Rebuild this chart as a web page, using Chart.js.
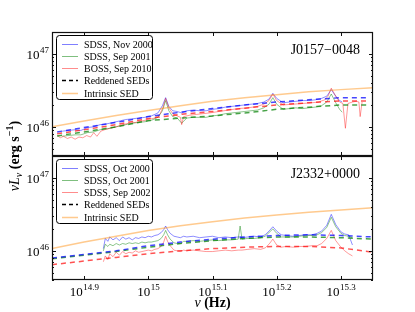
<!DOCTYPE html>
<html>
<head>
<meta charset="utf-8">
<script src="https://cdn.jsdelivr.net/npm/chart.js@4.4.1/dist/chart.umd.min.js"></script>
<style>
  html, body { margin: 0; padding: 0; background: #fff; }
  #wrap { position: relative; width: 415px; height: 312px; }
  canvas { position: absolute; left: 0; top: 0; }
</style>
</head>
<body>
<div id="wrap">
  <canvas id="topPanel" width="415" height="312"></canvas>
  <canvas id="botPanel" width="415" height="312"></canvas>
</div>
<script>
// ---- data (log10 nu [Hz], log10 nuL_nu [erg/s]) ----
const xTickExp = ["14.9", "15", "15.1", "15.2", "15.3"];
const yTickExp = ["46", "47"];

const topTitle = "J0157\u22120048";
const botTitle = "J2332+0000";
const topLabels = ["SDSS, Nov 2000", "SDSS, Sep 2001", "BOSS, Sep 2010", "Reddened SEDs", "Intrinsic SED"];
const botLabels = ["SDSS, Oct 2000", "SDSS, Oct 2001", "SDSS, Sep 2002", "Reddened SEDs", "Intrinsic SED"];

// model grids
const nuModel = [14.85, 14.9, 14.95, 15.0, 15.05, 15.1, 15.15, 15.2, 15.25, 15.3, 15.35];
const nuRedTop = [14.858, 14.9, 14.95, 15.0, 15.05, 15.1, 15.15, 15.2, 15.25, 15.3, 15.345];

// J0157-0048
const topIntrinsic = [46.0, 46.08, 46.155, 46.225, 46.29, 46.35, 46.40, 46.44, 46.48, 46.51, 46.535];
const topRedBlue = [45.93, 45.99, 46.06, 46.14, 46.20, 46.25, 46.30, 46.34, 46.37, 46.40, 46.40];
const topRedRed = [45.905, 45.96, 46.03, 46.115, 46.17, 46.21, 46.255, 46.30, 46.33, 46.355, 46.355];
const topRedGreen = [45.875, 45.93, 46.0, 46.085, 46.12, 46.15, 46.19, 46.24, 46.27, 46.30, 46.30];

const nuTopSdss = [14.866, 14.875, 14.886, 14.895, 14.905, 14.915, 14.925, 14.935, 14.945, 14.955,
  14.965, 14.975, 14.985, 14.995, 15.005, 15.015, 15.022, 15.027, 15.032, 15.038,
  15.045, 15.052, 15.06, 15.07, 15.08, 15.09, 15.1, 15.11, 15.12, 15.13,
  15.14, 15.15, 15.16, 15.17, 15.18, 15.188, 15.194, 15.2, 15.21, 15.22,
  15.23, 15.24, 15.25, 15.26, 15.27, 15.278, 15.285, 15.292, 15.298, 15.302];
const topSpecBlue = [45.94, 45.95, 45.96, 45.95, 45.99, 46.0, 46.03, 46.04, 46.06, 46.08,
  46.1, 46.11, 46.12, 46.13, 46.15, 46.19, 46.29, 46.4, 46.28, 46.22,
  46.21, 46.19, 46.22, 46.23, 46.22, 46.22, 46.24, 46.25, 46.27, 46.28,
  46.29, 46.3, 46.31, 46.32, 46.34, 46.38, 46.46, 46.39, 46.33, 46.34,
  46.35, 46.36, 46.36, 46.37, 46.39, 46.42, 46.51, 46.42, 46.36, 46.34];
const topSpecGreen = [45.87, 45.88, 45.89, 45.89, 45.92, 45.93, 45.96, 45.97, 45.99, 46.01,
  46.03, 46.05, 46.06, 46.07, 46.09, 46.13, 46.22, 46.36, 46.22, 46.14,
  46.12, 46.05, 46.12, 46.13, 46.13, 46.13, 46.15, 46.16, 46.18, 46.19,
  46.2, 46.21, 46.22, 46.23, 46.26, 46.31, 46.4, 46.31, 46.24, 46.25,
  46.26, 46.25, 46.26, 46.27, 46.29, 46.34, 46.45, 46.33, 46.24, 46.2];

const nuTopBoss = [14.858, 14.863, 14.868, 14.874, 14.88, 14.886, 14.892, 14.898, 14.904, 14.91,
  14.915, 14.92, 14.926, 14.932, 14.94, 14.95, 14.96, 14.97, 14.98, 14.99,
  15.0, 15.01, 15.018, 15.023, 15.027, 15.032, 15.038, 15.045, 15.05, 15.052,
  15.055, 15.065, 15.075, 15.085, 15.095, 15.11, 15.125, 15.14, 15.155, 15.17,
  15.18, 15.188, 15.194, 15.2, 15.21, 15.225, 15.24, 15.255, 15.265, 15.275,
  15.28, 15.285, 15.292, 15.298, 15.303, 15.307, 15.311, 15.318, 15.324, 15.328,
  15.33, 15.333];
const topSpecRed = [45.88, 45.85, 45.87, 45.84, 45.86, 45.83, 45.86, 45.85, 45.88, 45.86,
  45.92, 45.87, 45.94, 45.96, 45.98, 46.0, 46.03, 46.05, 46.06, 46.08,
  46.1, 46.12, 46.17, 46.27, 46.39, 46.26, 46.18, 46.15, 46.13, 46.03,
  46.14, 46.16, 46.17, 46.18, 46.19, 46.21, 46.23, 46.25, 46.26, 46.28,
  46.31, 46.36, 46.45, 46.36, 46.3, 46.31, 46.32, 46.33, 46.34, 46.37,
  46.42, 46.53, 46.42, 46.34, 46.32, 45.98, 46.32, 46.34, 46.35, 46.34,
  46.14, 46.34];

// J2332+0000
const botIntrinsic = [46.03, 46.12, 46.2, 46.28, 46.345, 46.40, 46.45, 46.49, 46.53, 46.56, 46.59];
const botRedBlue = [45.90, 45.95, 46.0, 46.07, 46.12, 46.16, 46.19, 46.21, 46.22, 46.21, 46.19];
const botRedGreen = [45.89, 45.94, 45.99, 46.05, 46.10, 46.14, 46.17, 46.19, 46.19, 46.18, 46.16];
const botRedRed = [45.81, 45.86, 45.91, 45.96, 46.0, 46.03, 46.05, 46.06, 46.06, 46.04, 45.98];

const nuBot = [14.93, 14.933, 14.937, 14.94, 14.945, 14.95, 14.955, 14.96, 14.965, 14.97,
  14.975, 14.98, 14.985, 14.99, 14.995, 15.0, 15.005, 15.01, 15.015, 15.02,
  15.024, 15.027, 15.03, 15.034, 15.04, 15.045, 15.05, 15.055, 15.06, 15.07,
  15.08, 15.09, 15.1, 15.11, 15.12, 15.13, 15.14, 15.143, 15.146, 15.155,
  15.165, 15.175, 15.182, 15.188, 15.194, 15.2, 15.207, 15.215, 15.225, 15.235,
  15.245, 15.255, 15.263, 15.27, 15.278, 15.285, 15.292, 15.3, 15.306, 15.312,
  15.318];
const botSpecBlue = [46.03, 46.17, 46.13, 46.19, 46.15, 46.18, 46.14, 46.19, 46.16, 46.18,
  46.15, 46.18, 46.17, 46.19, 46.18, 46.2, 46.19, 46.21, 46.22, 46.25,
  46.29, 46.34, 46.29, 46.24, 46.2, 46.19, 46.18, 46.2, 46.19, 46.2,
  46.18, 46.19, 46.2, 46.18, 46.19, 46.18, 46.19, 46.19, 46.18, 46.19,
  46.2, 46.19, 46.22, 46.27, 46.33, 46.27, 46.22, 46.21, 46.2, 46.21,
  46.22, 46.22, 46.24, 46.27, 46.35, 46.5, 46.36, 46.26, 46.23, 46.22,
  46.08];
const botSpecGreen = [46.0, 46.09, 46.06, 46.09, 46.07, 46.1, 46.08, 46.1, 46.09, 46.11,
  46.1, 46.11, 46.1, 46.12, 46.11, 46.12, 46.12, 46.13, 46.14, 46.17,
  46.22, 46.28, 46.22, 46.16, 46.11, 46.1, 46.1, 46.13, 46.13, 46.14,
  46.13, 46.14, 46.15, 46.14, 46.15, 46.15, 46.16, 46.34, 46.16, 46.17,
  46.17, 46.18, 46.2, 46.25, 46.3, 46.24, 46.19, 46.19, 46.19, 46.2,
  46.21, 46.21, 46.22, 46.25, 46.32, 46.46, 46.33, 46.24, 46.21, 46.2,
  46.18];
const botSpecRed = [45.85, 45.93, 45.88, 45.96, 45.92, 45.98, 45.94, 45.99, 45.96, 45.98,
  45.97, 46.0, 45.98, 45.99, 46.0, 46.01, 46.0, 46.02, 46.03, 46.06,
  46.12, 46.2, 46.13, 46.07, 46.01, 46.0, 45.99, 46.01, 46.0, 46.01,
  46.0, 45.99, 45.99, 46.0, 46.01, 46.0, 46.01, 46.01, 46.01, 46.02,
  46.03, 46.02, 46.04, 46.09, 46.16, 46.08, 46.05, 46.06, 46.05, 46.06,
  46.06, 46.07, 46.07, 46.1, 46.17, 46.28, 46.14, 46.05, 46.0, 45.96,
  45.93];

// ---- styles ----
const SERIF = '"Liberation Serif", "DejaVu Serif", serif';
const cSpecBlue = "rgba(0,0,255,0.5)";
const cSpecGreen = "rgba(0,128,0,0.5)";
const cSpecRed = "rgba(255,0,0,0.45)";
const cDashBlue = "rgba(0,0,255,0.72)";
const cDashGreen = "rgba(0,128,0,0.72)";
const cDashRed = "rgba(255,0,0,0.68)";
const cOrange = "rgba(255,150,30,0.5)";

function pts(xs, ys) {
  return xs.map((x, i) => ({ x: x, y: ys[i] }));
}

function spec(nu, lum, color) {
  return { data: pts(nu, lum), borderColor: color, borderWidth: 0.9, pointRadius: 0, tension: 0 };
}
function dashed(nu, lum, color) {
  return { data: pts(nu, lum), borderColor: color, borderWidth: 1.5, borderDash: [5, 4], pointRadius: 0, tension: 0 };
}
function solid(nu, lum, color) {
  return { data: pts(nu, lum), borderColor: color, borderWidth: 1.5, pointRadius: 0, tension: 0 };
}

// superscript power-of-ten label
function drawPow(ctx, exp, x, y, align) {
  ctx.font = "13px " + SERIF;
  const wb = ctx.measureText("10").width;
  ctx.font = "9px " + SERIF;
  const we = ctx.measureText(exp).width;
  const x0 = align === "right" ? x - wb - we - 0.5 : x - (wb + we) / 2;
  ctx.textAlign = "left";
  ctx.textBaseline = "alphabetic";
  ctx.font = "13px " + SERIF;
  ctx.fillText("10", x0, y);
  ctx.font = "9px " + SERIF;
  ctx.fillText(exp, x0 + wb + 0.5, y - 6);
}

function richWidth(ctx, parts) {
  let w = 0;
  parts.forEach(p => { ctx.font = p.font; w += ctx.measureText(p.t).width; });
  return w;
}
function drawRich(ctx, parts, x, y) {
  let cx = x;
  parts.forEach(p => {
    ctx.font = p.font;
    ctx.fillText(p.t, cx, y + (p.dy || 0));
    cx += ctx.measureText(p.t).width;
  });
}

function panelPlugin(title, labels, legendStyles, withXLabels) {
  return {
    id: "panelDecor",
    afterDraw(chart) {
      const ctx = chart.ctx;
      const a = chart.chartArea;
      const xs = chart.scales.x;
      const ys = chart.scales.y;
      ctx.save();
      ctx.fillStyle = "#000";
      ctx.strokeStyle = "#111";
      ctx.lineWidth = 1;

      // ticks
      ctx.beginPath();
      xTickExp.forEach(e => {
        const px = Math.round(xs.getPixelForValue(parseFloat(e))) + 0.5;
        ctx.moveTo(px, a.bottom); ctx.lineTo(px, a.bottom - 4);
        ctx.moveTo(px, a.top); ctx.lineTo(px, a.top + 4);
      });
      for (let d = 45; d <= 47; d++) {
        for (let m = 1; m < 10; m++) {
          const v = d + Math.log10(m);
          if (v <= ys.min || v >= ys.max) continue;
          const py = Math.round(ys.getPixelForValue(v)) + 0.5;
          const len = m === 1 ? 4 : 2;
          ctx.moveTo(a.left, py); ctx.lineTo(a.left + len, py);
          ctx.moveTo(a.right, py); ctx.lineTo(a.right - len, py);
        }
      }
      ctx.stroke();

      // frame
      ctx.lineWidth = 1.2;
      ctx.strokeRect(a.left + 0.5, a.top + 0.5, a.right - a.left - 1, a.bottom - a.top - 1);

      // y tick labels
      yTickExp.forEach(e => {
        const py = ys.getPixelForValue(parseFloat(e));
        drawPow(ctx, e, 49, py + 5, "right");
      });
      if (withXLabels) {
        xTickExp.forEach(e => {
          const px = xs.getPixelForValue(parseFloat(e));
          drawPow(ctx, e, px, 296, "center");
        });
      }

      // title
      ctx.font = "14px " + SERIF;
      ctx.textAlign = "right";
      ctx.textBaseline = "alphabetic";
      ctx.fillText(title, 360, a.top + 21.5);

      // legend
      const bx = 56.5, by = a.top + 3.5, bw = 96, bh = 64;
      ctx.beginPath();
      ctx.roundRect(bx, by, bw, bh, 3);
      ctx.fillStyle = "#fff";
      ctx.fill();
      ctx.lineWidth = 1;
      ctx.strokeStyle = "#000";
      ctx.stroke();
      ctx.font = "10px " + SERIF;
      ctx.textAlign = "left";
      ctx.textBaseline = "middle";
      labels.forEach((t, i) => {
        const ly = Math.round(a.top + 11.5 + i * 12.3) + 0.5;
        const st = legendStyles[i];
        ctx.beginPath();
        ctx.strokeStyle = st.color;
        ctx.lineWidth = st.width;
        ctx.setLineDash(st.dash || []);
        ctx.moveTo(62, ly); ctx.lineTo(78, ly);
        ctx.stroke();
        ctx.setLineDash([]);
        ctx.fillStyle = "#000";
        ctx.fillText(t, 84, ly + 0.5);
      });

      ctx.restore();
    }
  };
}

function axisLabelsPlugin() {
  return {
    id: "axisLabels",
    afterDraw(chart) {
      const ctx = chart.ctx;
      ctx.save();
      ctx.fillStyle = "#000";
      ctx.textAlign = "left";
      ctx.textBaseline = "alphabetic";
      const xl = [
        { t: "\u03bd ", font: "italic 14px " + SERIF },
        { t: "(Hz)", font: "bold 14px " + SERIF }
      ];
      const wx = richWidth(ctx, xl);
      drawRich(ctx, xl, 212.5 - wx / 2, 307);

      const yl = [
        { t: "\u03bdL", font: "italic 14px " + SERIF },
        { t: "\u03bd", font: "italic 10px " + SERIF, dy: 3 },
        { t: " (erg s", font: "bold 14px " + SERIF },
        { t: "\u22121", font: "bold 10px " + SERIF, dy: -6 },
        { t: ")", font: "bold 14px " + SERIF }
      ];
      const wy = richWidth(ctx, yl);
      ctx.translate(19, 156);
      ctx.rotate(-Math.PI / 2);
      drawRich(ctx, yl, -wy / 2, 0);
      ctx.restore();
    }
  };
}

const legendStyles = [
  { color: cSpecBlue, width: 1 },
  { color: cSpecGreen, width: 1 },
  { color: cSpecRed, width: 1 },
  { color: "#000", width: 1.5, dash: [4, 3] },
  { color: cOrange, width: 1.5 }
];

function baseOptions(padTop, padBottom) {
  return {
    responsive: false,
    animation: false,
    events: [],
    layout: { padding: { left: 52, right: 42, top: padTop, bottom: padBottom } },
    scales: {
      x: { type: "linear", min: 14.85, max: 15.35, display: false },
      y: { type: "linear", min: 45.6, max: 47.3, display: false }
    },
    plugins: { legend: { display: false }, tooltip: { enabled: false } }
  };
}

new Chart(document.getElementById("topPanel").getContext("2d"), {
  type: "line",
  data: {
    datasets: [
      dashed(nuRedTop, topRedBlue, cDashBlue),
      dashed(nuRedTop, topRedRed, cDashRed),
      dashed(nuRedTop, topRedGreen, cDashGreen),
      solid(nuModel, topIntrinsic, cOrange),
      spec(nuTopBoss, topSpecRed, cSpecRed),
      spec(nuTopSdss, topSpecGreen, cSpecGreen),
      spec(nuTopSdss, topSpecBlue, cSpecBlue)
    ]
  },
  options: baseOptions(32, 156),
  plugins: [panelPlugin(topTitle, topLabels, legendStyles, false)]
});

new Chart(document.getElementById("botPanel").getContext("2d"), {
  type: "line",
  data: {
    datasets: [
      dashed(nuModel, botRedBlue, cDashBlue),
      dashed(nuModel, botRedGreen, cDashGreen),
      dashed(nuModel, botRedRed, cDashRed),
      solid(nuModel, botIntrinsic, cOrange),
      spec(nuBot, botSpecRed, cSpecRed),
      spec(nuBot, botSpecGreen, cSpecGreen),
      spec(nuBot, botSpecBlue, cSpecBlue)
    ]
  },
  options: baseOptions(156, 32),
  plugins: [panelPlugin(botTitle, botLabels, legendStyles, true), axisLabelsPlugin()]
});
</script>
</body>
</html>
